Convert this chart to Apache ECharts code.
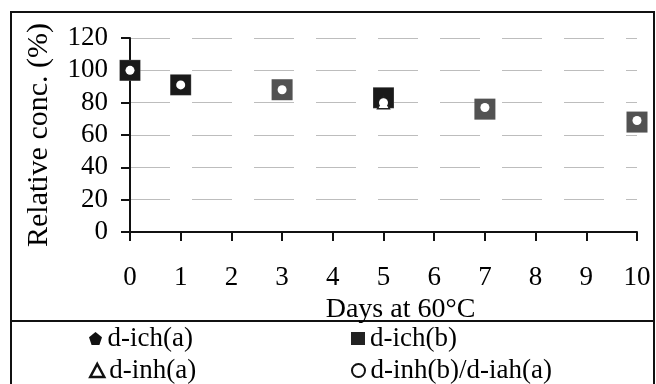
<!DOCTYPE html>
<html><head><meta charset="utf-8">
<script src="https://cdn.jsdelivr.net/npm/echarts@6/dist/echarts.min.js"></script>
<style>html,body{margin:0;padding:0;background:#fff}#c{width:656px;height:384px}</style>
</head><body><div id="c"></div>
<script>
const days = [0, 1, 3, 5, 7, 10];
const ichA = [[0, 100], [1, 91], [5, 83]];
const ichB = [100, 91, 88, 83, 76, 68];
const inhA = [[5, 80]];
const inhB = [100, 91, 88, 80, 77, 69];
const xTicks = [0,1,2,3,4,5,6,7,8,9,10];
const yTicks = [0,20,40,60,80,100,120];

const font = 'Liberation Serif';
const legTxt = {fontFamily: font, fontSize: 27, color: '#000'};
function leg(left, top, item) {
  return {left: left, top: top, orient: 'vertical', itemGap: 0, itemWidth: 14, itemHeight: 13,
    padding: 0, textStyle: legTxt, data: [item]};
}
const chart = echarts.init(document.getElementById('c'));
chart.setOption({
  animation: false,
  textStyle: {fontFamily: font},
  graphic: [
    {type: 'rect', shape: {x: 11, y: 12, width: 643, height: 380}, style: {fill: 'none', stroke: '#111', lineWidth: 2}},
    {type: 'line', shape: {x1: 11, y1: 321, x2: 654, y2: 321}, style: {stroke: '#111', lineWidth: 2}}
  ],
  grid: {left: 130, right: 19, top: 38, bottom: 152},
  xAxis: {
    type: 'value', min: 0, max: 10, interval: 1,
    name: 'Days at 60°C', nameLocation: 'middle', nameGap: 64,
    nameTextStyle: {fontFamily: font, fontSize: 28, color: '#000', padding: [0, 0, 0, 34]},
    axisLine: {show: true, onZero: false, lineStyle: {color: '#111', width: 2}},
    axisTick: {show: true, length: 9, inside: false, lineStyle: {color: '#111', width: 2}},
    axisLabel: {margin: 32, fontFamily: font, fontSize: 27, color: '#000',
      formatter: v => xTicks.includes(v) ? String(v) : ''},
    splitLine: {show: false}
  },
  yAxis: {
    type: 'value', min: 0, max: 120, interval: 20,
    name: 'Relative conc. (%)', nameLocation: 'middle', nameGap: 76, nameRotate: 90,
    nameTextStyle: {fontFamily: font, fontSize: 30, color: '#000'},
    axisLine: {show: true, lineStyle: {color: '#111', width: 2}},
    axisTick: {show: true, length: 9, lineStyle: {color: '#111', width: 2}},
    axisLabel: {margin: 22, fontFamily: font, fontSize: 27, color: '#000',
      formatter: v => yTicks.includes(v) ? String(v) : ''},
    splitLine: {show: true, lineStyle: {color: '#bdbdbd', width: 1, type: [40, 22]}}
  },
  legend: [
    leg(89, 325, {name: 'd-ich(a)', icon: 'path://M5,0 L10,4 L8,10 L2,10 L0,4 Z', itemStyle: {color: '#111'}}),
    leg(89, 357, {name: 'd-inh(a)', icon: 'triangle', itemStyle: {color: '#fff', borderColor: '#111', borderWidth: 2.5}}),
    leg(351, 325, {name: 'd-ich(b)', icon: 'rect', itemStyle: {color: '#222'}}),
    leg(351, 357, {name: 'd-inh(b)/d-iah(a)', icon: 'path://M5,2 A3,3 0 1,1 4.99,2 Z', itemStyle: {color: '#fff', borderColor: '#111', borderWidth: 2}})
  ],
  series: [
    {name: 'd-ich(b)', type: 'scatter', symbol: 'rect', symbolSize: 21, z: 2,
     itemStyle: {color: '#525252', opacity: 1},
     data: days.map((d, i) => [d, ichB[i]])},
    {name: 'd-ich(a)', type: 'scatter', symbol: 'rect', symbolSize: 20, z: 3,
     itemStyle: {color: '#1a1a1a', opacity: 1},
     data: ichA},
    {name: 'd-inh(a)', type: 'scatter', symbol: 'triangle', symbolSize: 12, z: 4,
     itemStyle: {color: '#fff', borderColor: '#222', borderWidth: 1.5, opacity: 1},
     data: inhA},
    {name: 'd-inh(b)/d-iah(a)', type: 'scatter', symbol: 'circle', symbolSize: 9, z: 5,
     itemStyle: {color: '#fff', borderColor: '#fff', borderWidth: 0, opacity: 1},
     data: days.map((d, i) => [d, inhB[i]])}
  ]
});
</script></body></html>
